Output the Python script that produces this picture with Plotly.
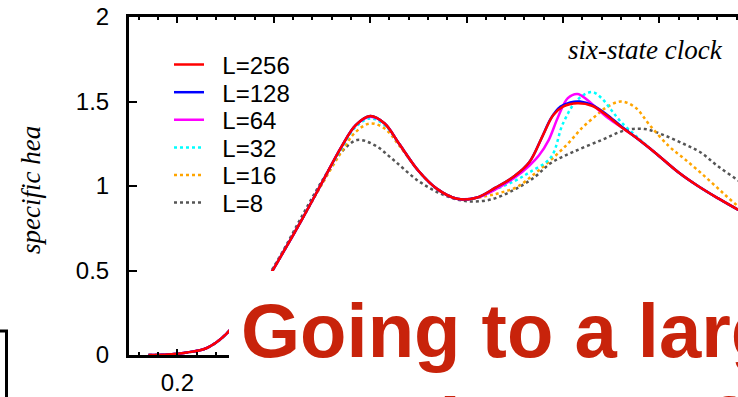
import plotly.graph_objects as go

# Specific heat of the six-state clock model for several lattice sizes L
sizes = ["L=256", "L=128", "L=64", "L=32", "L=16", "L=8"]

t_256 = [0.14, 0.18, 0.22, 0.26, 0.30, 0.34, 0.38, 0.42, 0.46, 0.50, 0.54, 0.57, 0.60, 0.63,
         0.66, 0.70, 0.74, 0.78, 0.82, 0.86, 0.90, 0.93, 0.96, 0.98, 1.00, 1.03, 1.06, 1.09,
         1.12, 1.15, 1.19, 1.24, 1.28, 1.32, 1.36, 1.40]
c_256 = [0.0, 0.003, 0.015, 0.04, 0.12, 0.27, 0.42, 0.61, 0.81, 1.02, 1.23, 1.36, 1.414, 1.37,
         1.25, 1.09, 0.98, 0.925, 0.93, 0.99, 1.06, 1.14, 1.31, 1.42, 1.47, 1.49, 1.475, 1.42,
         1.35, 1.29, 1.20, 1.08, 1.00, 0.93, 0.865, 0.81]

t_128 = [0.14, 0.18, 0.22, 0.26, 0.30, 0.34, 0.38, 0.42, 0.46, 0.50, 0.54, 0.57, 0.60, 0.63,
         0.66, 0.70, 0.74, 0.78, 0.82, 0.86, 0.90, 0.93, 0.955, 0.975, 0.995, 1.015, 1.035,
         1.06, 1.09, 1.12, 1.15, 1.19, 1.24, 1.28, 1.32, 1.36, 1.40]
c_128 = [0.0, 0.003, 0.015, 0.04, 0.12, 0.27, 0.42, 0.61, 0.81, 1.02, 1.23, 1.36, 1.414, 1.37,
         1.25, 1.09, 0.98, 0.925, 0.93, 0.99, 1.06, 1.14, 1.28, 1.40, 1.47, 1.495, 1.50,
         1.48, 1.425, 1.355, 1.29, 1.20, 1.08, 1.00, 0.93, 0.865, 0.81]

t_64 = [0.14, 0.18, 0.22, 0.26, 0.30, 0.34, 0.38, 0.42, 0.46, 0.50, 0.54, 0.57, 0.60, 0.63,
        0.66, 0.70, 0.74, 0.78, 0.82, 0.86, 0.90, 0.93, 0.95, 0.97, 0.99, 1.01, 1.03, 1.05,
        1.07, 1.09, 1.12, 1.15, 1.19, 1.24, 1.28, 1.32, 1.36, 1.40]
c_64 = [0.0, 0.003, 0.015, 0.04, 0.12, 0.27, 0.42, 0.61, 0.81, 1.02, 1.23, 1.36, 1.41, 1.37,
        1.25, 1.09, 0.98, 0.925, 0.93, 0.98, 1.05, 1.12, 1.18, 1.27, 1.41, 1.52, 1.545, 1.51,
        1.46, 1.41, 1.35, 1.29, 1.20, 1.08, 1.00, 0.93, 0.865, 0.81]

t_32 = [0.14, 0.18, 0.22, 0.26, 0.30, 0.34, 0.38, 0.42, 0.46, 0.50, 0.54, 0.57, 0.60, 0.63,
        0.66, 0.70, 0.74, 0.78, 0.82, 0.86, 0.90, 0.93, 0.975, 1.00, 1.03, 1.06, 1.08, 1.10,
        1.12, 1.15, 1.19, 1.24, 1.28, 1.32, 1.36, 1.40]
c_32 = [0.0, 0.003, 0.015, 0.04, 0.12, 0.27, 0.42, 0.61, 0.81, 1.02, 1.22, 1.35, 1.40, 1.36,
        1.25, 1.09, 0.98, 0.925, 0.93, 0.98, 1.03, 1.08, 1.17, 1.37, 1.51, 1.556, 1.52, 1.45,
        1.38, 1.30, 1.20, 1.08, 1.00, 0.93, 0.865, 0.81]

t_16 = [0.14, 0.18, 0.22, 0.26, 0.30, 0.34, 0.38, 0.42, 0.46, 0.50, 0.54, 0.57, 0.60, 0.63,
        0.66, 0.70, 0.74, 0.79, 0.84, 0.87, 0.905, 0.94, 0.975, 1.01, 1.04, 1.07, 1.09, 1.12,
        1.15, 1.18, 1.22, 1.25, 1.285, 1.32, 1.355, 1.40]
c_16 = [0.0, 0.003, 0.015, 0.04, 0.12, 0.27, 0.42, 0.61, 0.81, 1.01, 1.20, 1.32, 1.37, 1.34,
        1.24, 1.09, 0.98, 0.92, 0.94, 0.96, 0.995, 1.07, 1.155, 1.25, 1.345, 1.42, 1.465, 1.50,
        1.465, 1.36, 1.235, 1.165, 1.08, 0.99, 0.90, 0.80]

t_8 = [0.14, 0.18, 0.22, 0.26, 0.30, 0.34, 0.38, 0.42, 0.46, 0.50, 0.54, 0.573, 0.61, 0.65,
       0.70, 0.75, 0.80, 0.85, 0.90, 0.94, 0.975, 1.02, 1.08, 1.13, 1.17, 1.21, 1.25, 1.285,
       1.32, 1.365, 1.40]
c_8 = [0.0, 0.003, 0.015, 0.04, 0.12, 0.27, 0.43, 0.62, 0.83, 1.03, 1.20, 1.272, 1.24, 1.15,
       1.03, 0.95, 0.91, 0.92, 0.98, 1.05, 1.136, 1.20, 1.272, 1.33, 1.337, 1.30, 1.25, 1.20,
       1.12, 1.03, 0.96]

series_t = [t_256, t_128, t_64, t_32, t_16, t_8]
series_c = [c_256, c_128, c_64, c_32, c_16, c_8]
colors = ["#ff0000", "#0000ff", "#ff00ff", "#00ffff", "#ffa500", "#555555"]
dashes = ["solid", "solid", "solid", "3px,3px", "3px,3px", "3px,3px"]

x_ticks = [0.2, 0.4, 0.6, 0.8, 1.0, 1.2]
x_ticktext = ["0.2", "", "", "", "", ""]
y_ticks = [0, 0.5, 1, 1.5, 2]
y_ticktext = ["0", "0.5", "1", "1.5", "2"]

W, H = 738, 397
ML, MR, MT, MB = 129, 0, 17, 42
PW, PH = W - ML - MR, H - MT - MB


def px(xp):
    return (xp - ML) / PW


def py(yp):
    return (H - MB - yp) / PH


fig = go.Figure()

# Draw the smallest lattice first so that L=256 ends up on top
legend_rows = [65, 92.6, 120.2, 147.8, 175.4, 203]
for i in reversed(range(len(sizes))):
    fig.add_trace(go.Scatter(
        x=series_t[i], y=series_c[i], mode="lines", name="\u00a0\u00a0" + sizes[i],
        line=dict(color=colors[i], width=2.5, dash=dashes[i], shape="spline", smoothing=1.0),
        legend="legend" if i == 0 else f"legend{i + 1}",
    ))

tick_font = dict(family="Liberation Sans, Arial, sans-serif", size=24, color="black")

layout_legends = {}
for i in range(len(sizes)):
    key = "legend" if i == 0 else f"legend{i + 1}"
    layout_legends[key] = dict(
        x=px(169), y=py(legend_rows[i]), xanchor="left", yanchor="middle",
        bgcolor="rgba(0,0,0,0)", borderwidth=0, font=tick_font, itemwidth=30,
    )

fig.update_layout(
    width=W, height=H,
    margin=dict(l=ML, r=MR, t=MT, b=MB, pad=0, autoexpand=False),
    paper_bgcolor="white", plot_bgcolor="white",
    showlegend=True,
    **layout_legends,
)

fig.update_xaxes(
    range=[0.0996, 1.3631], tickvals=x_ticks, ticktext=x_ticktext, automargin=False,
    ticks="inside", ticklen=6, tickwidth=2, tickcolor="black",
    minor=dict(dtick=0.04, tick0=0, ticks="inside", ticklen=3, tickwidth=2, tickcolor="black"),
    showline=True, linewidth=3, linecolor="black", mirror="ticks",
    showgrid=False, zeroline=False, tickfont=tick_font, ticklabelstandoff=4,
)
fig.update_yaxes(
    range=[0, 2], tickvals=y_ticks, ticktext=y_ticktext, automargin=False,
    ticks="inside", ticklen=8, tickwidth=2, tickcolor="black",
    showline=True, linewidth=3, linecolor="black", mirror=False,
    showgrid=False, zeroline=False, tickfont=tick_font, ticklabelstandoff=12,
)

serif_italic = dict(family="Liberation Serif, Times New Roman, serif", size=27, color="black")

# Slide elements laid over the plot: white panel with the heading, and a framed box corner
fig.add_shape(type="rect", xref="paper", yref="paper",
              x0=px(229), x1=px(800), y0=py(271), y1=py(460),
              fillcolor="white", line=dict(width=0), layer="above")
fig.add_shape(type="rect", xref="paper", yref="paper",
              x0=px(-80), x1=px(6.5), y0=py(331), y1=py(470),
              fillcolor="rgba(0,0,0,0)", line=dict(color="black", width=3), layer="above")

heading_font = dict(family="Liberation Sans, Arial, sans-serif", size=76, color="#c8230b")
fig.add_annotation(text="<b>Going to a larger</b>", xref="paper", yref="paper",
                   x=px(239), y=py(330), xanchor="left", yanchor="middle",
                   showarrow=False, font=heading_font)
fig.add_annotation(text="<b>samples, we find</b>", xref="paper", yref="paper",
                   x=px(239), y=py(424), xanchor="left", yanchor="middle",
                   showarrow=False, font=heading_font)

fig.add_annotation(text="<i>six-state clock</i>", xref="paper", yref="paper",
                   x=px(645), y=py(50), xanchor="center", yanchor="middle",
                   showarrow=False, font=serif_italic)
fig.add_annotation(text="<i>specific hea</i>", xref="paper", yref="paper",
                   x=px(31), y=py(190), xanchor="center", yanchor="middle",
                   textangle=-90, showarrow=False, font=serif_italic)

fig.write_html("out.html")
